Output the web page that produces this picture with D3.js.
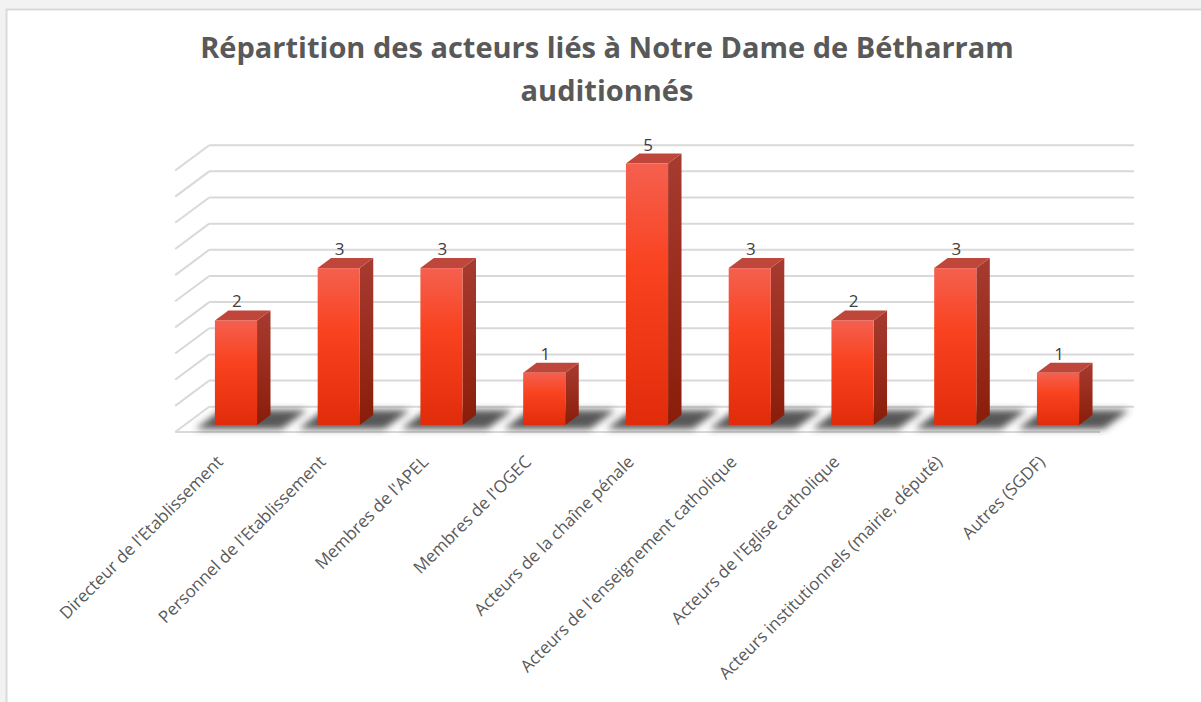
<!DOCTYPE html>
<html>
<head>
<meta charset="utf-8">
<script src="https://cdn.jsdelivr.net/npm/d3@7"></script>
<style>
  body { margin: 0; background: #f2f2f2; }
  svg { display: block; }
</style>
</head>
<body>
<svg id="chart" width="1201" height="702"></svg>
<script>
const titleLines = ["Répartition des acteurs liés à Notre Dame de Bétharram", "auditionnés"];
const categories = [
  "Directeur de l'Etablissement",
  "Personnel de l'Etablissement",
  "Membres de l'APEL",
  "Membres de l'OGEC",
  "Acteurs de la chaîne pénale",
  "Acteurs de l'enseignement catholique",
  "Acteurs de l'Eglise catholique",
  "Acteurs institutionnels (mairie, député)",
  "Autres (SGDF)"
];
const values = [2, 3, 3, 1, 5, 3, 2, 3, 1];
const gridValues = [0, 0.5, 1, 1.5, 2, 2.5, 3, 3.5, 4, 4.5, 5];

const svg = d3.select("#chart");
const width = 1201, height = 702;

// panel
svg.append("rect").attr("x", 6.5).attr("y", 9.5).attr("width", width).attr("height", height)
  .attr("fill", "#fff").attr("stroke", "#d9d9d9").attr("stroke-width", 2);

const defs = svg.append("defs");
const front = defs.append("linearGradient").attr("id", "front").attr("x1", 0).attr("y1", 0).attr("x2", 0).attr("y2", 1);
front.append("stop").attr("offset", "0%").attr("stop-color", "#f5604f");
front.append("stop").attr("offset", "40%").attr("stop-color", "#f9421f");
front.append("stop").attr("offset", "100%").attr("stop-color", "#e12c0b");
const side = defs.append("linearGradient").attr("id", "side").attr("x1", 0).attr("y1", 0).attr("x2", 0).attr("y2", 1);
side.append("stop").attr("offset", "0%").attr("stop-color", "#a73b30");
side.append("stop").attr("offset", "100%").attr("stop-color", "#8a1d09");
defs.append("filter").attr("id", "blur").attr("x", "-20%").attr("y", "-50%").attr("width", "140%").attr("height", "200%")
  .append("feGaussianBlur").attr("stdDeviation", 3.5);

// oblique projection: depth d moves right and up
const yBase = 425;
const kx = 35 / 26;
const x = d3.scaleBand().domain(categories).range([184.6, 1109.4]).paddingInner(0.59).paddingOuter(0.295);
const y = d3.scaleLinear().domain([0, 5]).range([0, 261.5]);
const proj = (px, v, d) => [px + d * kx, yBase - y(v) - d];
const dFront = -7, dBack = 18.3, barDepth = 10;
const [xl, xr] = x.range();

// back wall and side wall gridlines
const grid = svg.append("g").attr("stroke", "#d9d9d9").attr("stroke-width", 2).attr("fill", "none");
grid.selectAll("line.back").data(gridValues).join("line").attr("class", "back")
  .attr("x1", d => proj(xl, d, dBack)[0]).attr("y1", d => proj(xl, d, dBack)[1])
  .attr("x2", d => proj(xr, d, dBack)[0]).attr("y2", d => proj(xr, d, dBack)[1]);
grid.selectAll("line.side").data(gridValues).join("line").attr("class", "side")
  .attr("x1", d => proj(xl, d, dFront)[0]).attr("y1", d => proj(xl, d, dFront)[1])
  .attr("x2", d => proj(xl, d, dBack)[0]).attr("y2", d => proj(xl, d, dBack)[1]);
grid.append("line")
  .attr("x1", proj(xl, 0, dFront)[0]).attr("y1", proj(xl, 0, dFront)[1])
  .attr("x2", proj(xr, 0, dFront)[0]).attr("y2", proj(xr, 0, dFront)[1]);

// floor shadows
const poly = pts => pts.map(p => p.join(",")).join(" ");
svg.append("g").attr("filter", "url(#blur)")
  .selectAll("polygon").data(categories).join("polygon")
  .attr("fill", "#3a3a3a").attr("fill-opacity", 0.85)
  .attr("points", d => {
    const a = x(d) - 14, b = x(d) + x.bandwidth() + 30;
    return poly([proj(a, 0, -4), proj(b, 0, -4), proj(b, 0, 15), proj(a, 0, 15)]);
  });

// bars
const bars = svg.append("g").selectAll("g").data(categories).join("g");
bars.append("polygon").attr("fill", "url(#side)")
  .attr("points", (d, i) => {
    const r = x(d) + x.bandwidth();
    return poly([proj(r, values[i], 0), proj(r, values[i], barDepth), proj(r, 0, barDepth), proj(r, 0, 0)]);
  });
bars.append("polygon").attr("fill", "#bf463b")
  .attr("points", (d, i) => {
    const l = x(d), r = l + x.bandwidth();
    return poly([proj(l, values[i], 0), proj(l, values[i], barDepth), proj(r, values[i], barDepth), proj(r, values[i], 0)]);
  });
bars.append("rect").attr("fill", "url(#front)")
  .attr("x", d => x(d)).attr("width", x.bandwidth())
  .attr("y", (d, i) => yBase - y(values[i])).attr("height", (d, i) => y(values[i]));

// value labels
svg.append("g").selectAll("text").data(categories).join("text")
  .attr("x", d => x(d) + x.bandwidth() / 2 + 1)
  .attr("y", (d, i) => yBase - y(values[i]) - 13)
  .attr("text-anchor", "middle")
  .attr("font-family", "Open Sans, sans-serif").attr("font-size", 17).attr("fill", "#404040")
  .text((d, i) => values[i]);

// category labels
svg.append("g").selectAll("text").data(categories).join("text")
  .attr("transform", d => `translate(${x(d) + x.bandwidth() / 2 - 12},${463}) rotate(-45)`)
  .attr("text-anchor", "end")
  .attr("font-family", "Open Sans, sans-serif").attr("font-size", 17).attr("fill", "#595959")
  .text(d => d);

// title
svg.append("g").selectAll("text").data(titleLines).join("text")
  .attr("x", 607).attr("y", (d, i) => 58 + i * 43)
  .attr("text-anchor", "middle")
  .attr("font-family", "Open Sans, sans-serif").attr("font-weight", "bold")
  .attr("font-size", 29).attr("fill", "#595959")
  .text(d => d);
</script>
</body>
</html>
